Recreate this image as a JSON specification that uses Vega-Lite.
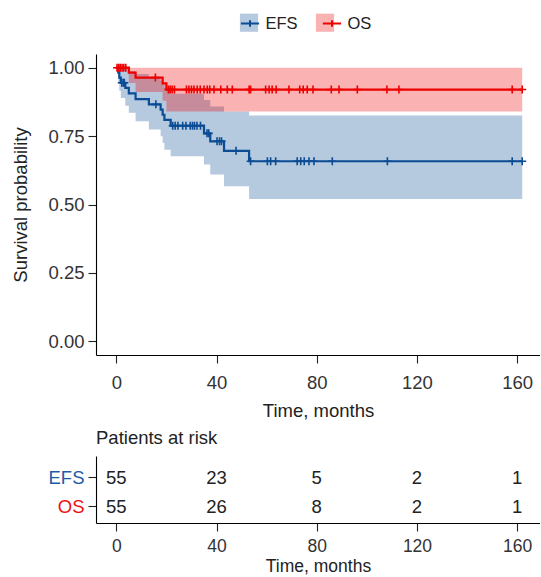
{
  "$schema": "https://vega.github.io/schema/vega-lite/v6.json",
  "padding": {"left": 11, "top": 13, "right": 0, "bottom": 0},
  "bounds": "flush",
  "spacing": 101,
  "config": {
    "font": "Liberation Sans",
    "view": {"stroke": null},
    "axis": {
      "grid": false,
      "domainColor": "#000000",
      "domainWidth": 1.1,
      "tickColor": "#222222",
      "tickWidth": 1.1,
      "tickSize": 8,
      "labelFont": "Liberation Sans",
      "labelFontSize": 18.5,
      "labelColor": "#333333",
      "titleFont": "Liberation Sans",
      "titleFontSize": 18.5,
      "titleFontWeight": "normal",
      "titleColor": "#222222"
    },
    "axisX": {"labelPadding": 10, "titlePadding": 10},
    "axisY": {"labelPadding": 4, "titlePadding": 17},
    "legend": {
      "labelFont": "Liberation Sans",
      "labelFontSize": 16.5,
      "labelColor": "#222222",
      "padding": 0
    }
  },
  "datasets": {
    "curve": [
      {"strata": "EFS", "time": 0, "surv": 1, "lower": 1, "upper": 1},
      {"strata": "EFS", "time": 0.8, "surv": 0.982, "lower": 0.947, "upper": 1},
      {"strata": "EFS", "time": 1.2, "surv": 0.964, "lower": 0.916, "upper": 1},
      {"strata": "EFS", "time": 1.8, "surv": 0.945, "lower": 0.889, "upper": 1},
      {"strata": "EFS", "time": 3.6, "surv": 0.926, "lower": 0.861, "upper": 0.998},
      {"strata": "EFS", "time": 5, "surv": 0.906, "lower": 0.835, "upper": 0.988},
      {"strata": "EFS", "time": 7.7, "surv": 0.885, "lower": 0.804, "upper": 0.977},
      {"strata": "EFS", "time": 13, "surv": 0.866, "lower": 0.774, "upper": 0.966},
      {"strata": "EFS", "time": 17.7, "surv": 0.847, "lower": 0.749, "upper": 0.953},
      {"strata": "EFS", "time": 18.5, "surv": 0.828, "lower": 0.725, "upper": 0.94},
      {"strata": "EFS", "time": 19.2, "surv": 0.809, "lower": 0.7, "upper": 0.927},
      {"strata": "EFS", "time": 21.7, "surv": 0.788, "lower": 0.676, "upper": 0.905},
      {"strata": "EFS", "time": 35, "surv": 0.76, "lower": 0.646, "upper": 0.882},
      {"strata": "EFS", "time": 37.5, "surv": 0.731, "lower": 0.61, "upper": 0.858},
      {"strata": "EFS", "time": 43, "surv": 0.696, "lower": 0.567, "upper": 0.84},
      {"strata": "EFS", "time": 53, "surv": 0.658, "lower": 0.52, "upper": 0.825},
      {"strata": "EFS", "time": 162, "surv": 0.658, "lower": 0.52, "upper": 0.825},
      {"strata": "OS", "time": 0, "surv": 1, "lower": 1, "upper": 1},
      {"strata": "OS", "time": 5, "surv": 0.982, "lower": 0.944, "upper": 1},
      {"strata": "OS", "time": 7.7, "surv": 0.964, "lower": 0.911, "upper": 1},
      {"strata": "OS", "time": 18.5, "surv": 0.943, "lower": 0.879, "upper": 1},
      {"strata": "OS", "time": 20, "surv": 0.92, "lower": 0.84, "upper": 1},
      {"strata": "OS", "time": 162, "surv": 0.92, "lower": 0.84, "upper": 1}
    ],
    "censor": [
      {"strata": "EFS", "time": 2.2, "surv": 0.945},
      {"strata": "EFS", "time": 2.8, "surv": 0.945},
      {"strata": "EFS", "time": 3.2, "surv": 0.945},
      {"strata": "EFS", "time": 15.8, "surv": 0.866},
      {"strata": "EFS", "time": 22.5, "surv": 0.788},
      {"strata": "EFS", "time": 23.5, "surv": 0.788},
      {"strata": "EFS", "time": 24.6, "surv": 0.788},
      {"strata": "EFS", "time": 26.5, "surv": 0.788},
      {"strata": "EFS", "time": 27.8, "surv": 0.788},
      {"strata": "EFS", "time": 29.5, "surv": 0.788},
      {"strata": "EFS", "time": 30.4, "surv": 0.788},
      {"strata": "EFS", "time": 31.2, "surv": 0.788},
      {"strata": "EFS", "time": 32.2, "surv": 0.788},
      {"strata": "EFS", "time": 33.6, "surv": 0.788},
      {"strata": "EFS", "time": 36.2, "surv": 0.76},
      {"strata": "EFS", "time": 36.9, "surv": 0.76},
      {"strata": "EFS", "time": 40.2, "surv": 0.731},
      {"strata": "EFS", "time": 41.2, "surv": 0.731},
      {"strata": "EFS", "time": 42, "surv": 0.731},
      {"strata": "EFS", "time": 47.8, "surv": 0.696},
      {"strata": "EFS", "time": 53.6, "surv": 0.658},
      {"strata": "EFS", "time": 60.3, "surv": 0.658},
      {"strata": "EFS", "time": 61.6, "surv": 0.658},
      {"strata": "EFS", "time": 63.6, "surv": 0.658},
      {"strata": "EFS", "time": 72.2, "surv": 0.658},
      {"strata": "EFS", "time": 73.6, "surv": 0.658},
      {"strata": "EFS", "time": 75, "surv": 0.658},
      {"strata": "EFS", "time": 76.9, "surv": 0.658},
      {"strata": "EFS", "time": 78.9, "surv": 0.658},
      {"strata": "EFS", "time": 86.2, "surv": 0.658},
      {"strata": "EFS", "time": 108.2, "surv": 0.658},
      {"strata": "EFS", "time": 158, "surv": 0.658},
      {"strata": "EFS", "time": 162, "surv": 0.658},
      {"strata": "OS", "time": 0.3, "surv": 1},
      {"strata": "OS", "time": 1, "surv": 1},
      {"strata": "OS", "time": 1.6, "surv": 1},
      {"strata": "OS", "time": 2.3, "surv": 1},
      {"strata": "OS", "time": 3, "surv": 1},
      {"strata": "OS", "time": 3.8, "surv": 1},
      {"strata": "OS", "time": 15.6, "surv": 0.964},
      {"strata": "OS", "time": 20.8, "surv": 0.92},
      {"strata": "OS", "time": 21.5, "surv": 0.92},
      {"strata": "OS", "time": 22.3, "surv": 0.92},
      {"strata": "OS", "time": 23.2, "surv": 0.92},
      {"strata": "OS", "time": 28, "surv": 0.92},
      {"strata": "OS", "time": 29, "surv": 0.92},
      {"strata": "OS", "time": 30, "surv": 0.92},
      {"strata": "OS", "time": 31, "surv": 0.92},
      {"strata": "OS", "time": 32.3, "surv": 0.92},
      {"strata": "OS", "time": 33.5, "surv": 0.92},
      {"strata": "OS", "time": 35, "surv": 0.92},
      {"strata": "OS", "time": 36.3, "surv": 0.92},
      {"strata": "OS", "time": 37.3, "surv": 0.92},
      {"strata": "OS", "time": 39, "surv": 0.92},
      {"strata": "OS", "time": 41.7, "surv": 0.92},
      {"strata": "OS", "time": 44.3, "surv": 0.92},
      {"strata": "OS", "time": 46.3, "surv": 0.92},
      {"strata": "OS", "time": 53, "surv": 0.92},
      {"strata": "OS", "time": 53.6, "surv": 0.92},
      {"strata": "OS", "time": 59.6, "surv": 0.92},
      {"strata": "OS", "time": 61, "surv": 0.92},
      {"strata": "OS", "time": 62.2, "surv": 0.92},
      {"strata": "OS", "time": 63.8, "surv": 0.92},
      {"strata": "OS", "time": 68.9, "surv": 0.92},
      {"strata": "OS", "time": 73.2, "surv": 0.92},
      {"strata": "OS", "time": 74.6, "surv": 0.92},
      {"strata": "OS", "time": 76.2, "surv": 0.92},
      {"strata": "OS", "time": 78.5, "surv": 0.92},
      {"strata": "OS", "time": 85.8, "surv": 0.92},
      {"strata": "OS", "time": 88.9, "surv": 0.92},
      {"strata": "OS", "time": 96.2, "surv": 0.92},
      {"strata": "OS", "time": 108, "surv": 0.92},
      {"strata": "OS", "time": 112.8, "surv": 0.92},
      {"strata": "OS", "time": 158, "surv": 0.92},
      {"strata": "OS", "time": 162, "surv": 0.92}
    ],
    "risk": [
      {"strata": "EFS", "time": 0, "n": 55},
      {"strata": "EFS", "time": 40, "n": 23},
      {"strata": "EFS", "time": 80, "n": 5},
      {"strata": "EFS", "time": 120, "n": 2},
      {"strata": "EFS", "time": 160, "n": 1},
      {"strata": "OS", "time": 0, "n": 55},
      {"strata": "OS", "time": 40, "n": 26},
      {"strata": "OS", "time": 80, "n": 8},
      {"strata": "OS", "time": 120, "n": 2},
      {"strata": "OS", "time": 160, "n": 1}
    ]
  },
  "vconcat": [
    {
      "width": 444,
      "height": 301,
      "layer": [
        {
          "data": {"name": "curve"},
          "mark": {"type": "area", "interpolate": "step-after", "opacity": 0.3},
          "encoding": {
            "x": {"field": "time", "type": "quantitative", "title": "Time, months",
                  "scale": {"domain": [-8.1, 169.1], "nice": false, "zero": false},
                  "axis": {"values": [0, 40, 80, 120, 160]}},
            "y": {"field": "lower", "type": "quantitative", "title": "Survival probability",
                  "scale": {"domain": [-0.05, 1.05], "nice": false, "zero": false},
                  "axis": {"values": [0, 0.25, 0.5, 0.75, 1], "format": ".2f"}},
            "y2": {"field": "upper"},
            "fill": {"field": "strata", "type": "nominal",
                     "scale": {"domain": ["EFS", "OS"], "range": ["#0B4C94", "#EE0000"]},
                     "legend": {"orient": "none", "legendX": 143.5, "legendY": -41, "direction": "horizontal",
                                "title": null, "symbolType": "square", "symbolSize": 330, "symbolOpacity": 0.3,
                                "symbolStrokeWidth": 0, "labelExpr": "''", "labelOffset": 5, "columnPadding": 52}}
          }
        },
        {
          "data": {"name": "curve"},
          "mark": {"type": "line", "interpolate": "step-after", "strokeWidth": 2.2},
          "encoding": {
            "x": {"field": "time", "type": "quantitative", "title": "Time, months"},
            "y": {"field": "surv", "type": "quantitative", "title": "Survival probability"},
            "stroke": {"field": "strata", "type": "nominal",
                       "scale": {"range": ["#0B4C94", "#EE0000"]},
                       "legend": {"orient": "none", "legendX": 143.5, "legendY": -41, "direction": "horizontal",
                                  "title": null, "symbolType": "M-1,0H1M0,-0.35V0.35", "symbolSize": 330,
                                  "symbolStrokeWidth": 2, "symbolFillColor": "transparent",
                                  "labelOffset": 5, "columnPadding": 20}}
          }
        },
        {
          "data": {"name": "censor"},
          "mark": {"type": "point", "shape": "M-1,0H1M0,-1V1", "size": 64, "strokeWidth": 1.6, "filled": false, "opacity": 1},
          "encoding": {
            "x": {"field": "time", "type": "quantitative", "title": "Time, months"},
            "y": {"field": "surv", "type": "quantitative", "title": "Survival probability"},
            "stroke": {"field": "strata", "type": "nominal"}
          }
        }
      ]
    },
    {
      "width": 444,
      "height": 67,
      "title": {"text": "Patients at risk", "anchor": "start", "frame": "group", "offset": 9,
                "fontSize": 18.5, "fontWeight": "normal", "color": "#222222", "font": "Liberation Sans"},
      "data": {"name": "risk"},
      "mark": {"type": "text", "fontSize": 18.5, "color": "#222222", "dy": 1},
      "encoding": {
        "x": {"field": "time", "type": "quantitative", "title": "Time, months",
              "scale": {"domain": [-8.1, 169.1], "nice": false, "zero": false},
              "axis": {"values": [0, 40, 80, 120, 160], "labelPadding": 6, "titlePadding": 2.5,
                       "labelFontSize": 17.5, "titleFontSize": 17.5}},
        "y": {"field": "strata", "type": "nominal", "title": null,
              "scale": {"type": "point", "padding": 0.655, "align": 0.563, "domain": ["EFS", "OS"]},
              "axis": {"labelColor": {"condition": {"test": "datum.value === 'EFS'", "value": "#1F5AA6"}, "value": "#EE1111"}}},
        "text": {"field": "n", "type": "quantitative"}
      }
    }
  ]
}
